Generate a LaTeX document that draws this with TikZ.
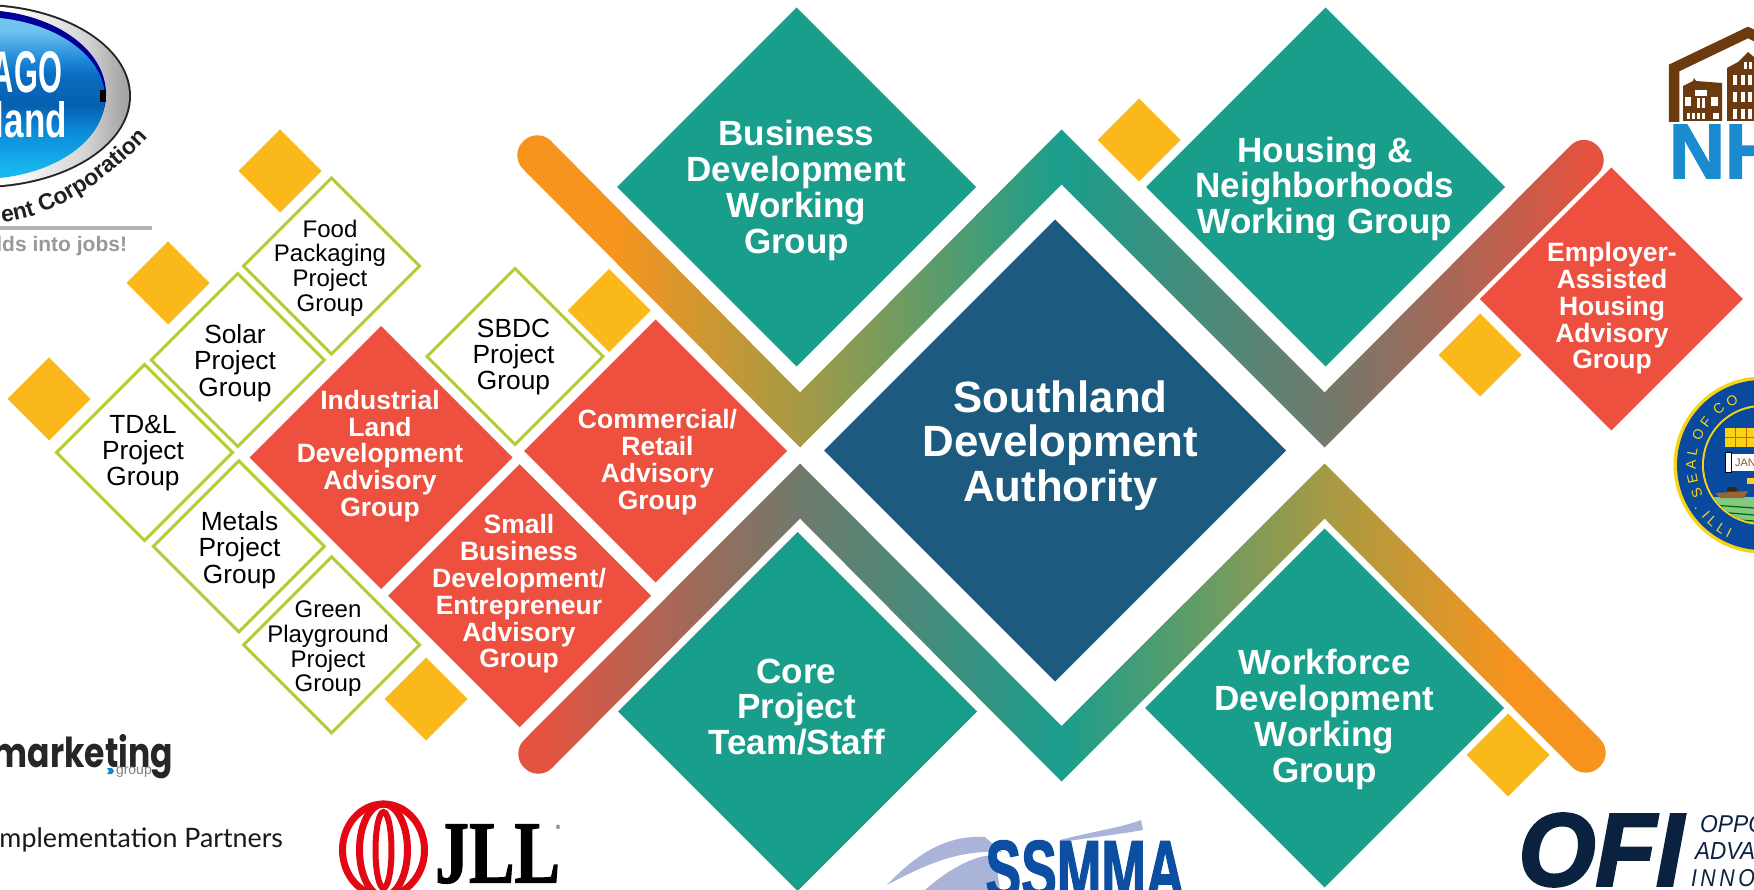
\documentclass[tikz,border=0pt]{standalone}
\usepackage{graphicx}
\usepackage{fontspec}
\setmainfont{Liberation Sans}
\newfontfamily\latofont{Lato}
\newfontfamily\poppinsfont{Poppins}
\newfontfamily\serifbold[BoldFeatures={FakeBold=1.5}]{Liberation Serif}
\newfontfamily\heavyf[BoldFeatures={FakeBold=2},BoldItalicFeatures={FakeBold=2.5}]{Liberation Sans}
\usetikzlibrary{shapes.geometric,decorations.text}
\definecolor{teal1}{HTML}{1A9E8C}
\definecolor{navy1}{HTML}{1D5A80}
\definecolor{red1}{HTML}{EE5040}
\definecolor{yel1}{HTML}{FBB81B}
\definecolor{lime1}{HTML}{B5CC34}
\definecolor{orange1}{HTML}{F7941D}
\definecolor{olive1}{HTML}{A59A45}
\definecolor{gray1}{HTML}{6F7A6C}
\definecolor{red2}{HTML}{E5523F}
\definecolor{brown1}{HTML}{6B3A0E}
\definecolor{nhblue}{HTML}{1B8BD0}
\definecolor{sealblue}{HTML}{0A4A9E}
\definecolor{sealyel}{HTML}{F7D417}
\definecolor{ofinavy}{HTML}{0A2240}
\definecolor{ssblue}{HTML}{0B4EA2}
\definecolor{sslight}{HTML}{A9B4D8}
\definecolor{jllred}{HTML}{E30613}
\definecolor{lb1}{HTML}{18B6EE}
\definecolor{lb2}{HTML}{0A8AD8}
\definecolor{lb3}{HTML}{0660B0}
\definecolor{lb4}{HTML}{0A6CC0}
\definecolor{lb5}{HTML}{1E88D8}
\definecolor{lb6}{HTML}{6FC4F0}
\pgfdeclarehorizontalshading{topband}{100bp}{color(0bp)=(orange1);color(30bp)=(orange1);color(38.4bp)=(olive1);color(50bp)=(teal1);color(61.8bp)=(gray1);color(73.5bp)=(red2);color(100bp)=(red2)}
\pgfdeclarehorizontalshading{botband}{100bp}{color(0bp)=(red2);color(26.8bp)=(red2);color(38.4bp)=(gray1);color(50bp)=(teal1);color(61.8bp)=(olive1);color(70.1bp)=(orange1);color(100bp)=(orange1)}
\pgfdeclareverticalshading{logoblue}{100bp}{color(0bp)=(lb1);color(27.8bp)=(lb1);color(40bp)=(lb2);color(47.8bp)=(lb3);color(57bp)=(lb4);color(61.7bp)=(lb5);color(71bp)=(lb6);color(100bp)=(lb6)}
\pgfdeclarehorizontalshading{chrome}{100bp}{color(0bp)=(white);color(55bp)=(white);color(68bp)=(gray!35);color(74bp)=(gray!70);color(100bp)=(gray)}
\tikzset{
  dia/.style={diamond,aspect=1,minimum width=#1,minimum height=#1,inner sep=0pt,outer sep=0pt,draw=none},
  tealdia/.style={dia=359pt,fill=teal1},
  reddia/.style={dia=263pt,fill=red1},
  yeldia/.style={dia=83pt,fill=yel1},
  outdia/.style={dia=#1,draw=lime1,line width=3pt,fill=white},
  bigtxt/.style={text=white,align=center,inner sep=0pt,font=\fontsize{35}{35.8}\selectfont\bfseries},
  midtxt/.style={text=white,align=center,inner sep=0pt,font=\fontsize{26.5}{26.8}\selectfont\bfseries},
  blktxt/.style={text=black,align=center,inner sep=0pt,font=\fontsize{26.3}{26.3}\selectfont},
  blksmall/.style={text=black,align=center,inner sep=0pt,font=\fontsize{24}{24.6}\selectfont},
  logotxt/.style={inner sep=0pt,outer sep=0pt}
}
\begin{document}
\begin{tikzpicture}[x=1pt,y=-1pt]
\useasboundingbox (0,0) rectangle (1754,890);
\clip (0,0) rectangle (1754,890);
\fill[white] (0,0) rectangle (1754,890);

% ---- gradient bands
\begin{scope}
\clip (551,141) -- (800,392.5) -- (1061.5,129.5) -- (1324.5,392.5) -- (1570,146)
  [rounded corners=19pt] -- (1584,132) -- (1611.5,160) [sharp corners] -- (1598,174)
  -- (1324.5,447.5) -- (1061.5,184.5) -- (800,447.5) -- (523,169)
  [rounded corners=19pt] -- (509.5,155) -- (537,127.5) [sharp corners] -- cycle;
\shade[shading=topband] (500,100) rectangle (1620,500);
\end{scope}
\begin{scope}
\clip (524,740) -- (800,463.5) -- (1061.5,726) -- (1324.5,463.5) -- (1600,739)
  [rounded corners=19pt] -- (1613.5,753) -- (1586,780.5) [sharp corners] -- (1572,767)
  -- (1324.5,518.5) -- (1061.5,781.5) -- (800,518.5) -- (552,768)
  [rounded corners=19pt] -- (538,781.5) -- (510.5,754) [sharp corners] -- cycle;
\shade[shading=botband] (500,440) rectangle (1620,800);
\end{scope}

% ---- main diamonds
\node[tealdia] (biz) at (796.5,187) {};
\node[tealdia] (hou) at (1325.5,187) {};
\node[tealdia] (cor) at (797.5,711.5) {};
\node[tealdia] (wrk) at (1324.5,708) {};
\node[dia=462pt,fill=navy1] (sda) at (1055,450.5) {};
\node[reddia] (ind) at (381,457.5) {};
\node[reddia] (com) at (655.5,451) {};
\node[reddia] (sbd) at (519.6,595.7) {};
\node[reddia] (emp) at (1611.3,299) {};
\node[outdia=176pt] (foo) at (331.5,266) {};
\node[outdia=173pt] (sol) at (237.7,360) {};
\node[outdia=176pt] (tdl) at (144.5,452.5) {};
\node[outdia=171pt] (met) at (238.8,546.4) {};
\node[outdia=176pt] (gre) at (331.7,644.9) {};
\node[outdia=176pt] (sbc) at (515,356.5) {};
\node[yeldia] (y1) at (280,171) {};
\node[yeldia] (y2) at (168,283) {};
\node[yeldia] (y3) at (49,399) {};
\node[yeldia] (y4) at (609,310.5) {};
\node[yeldia] (y5) at (426,699) {};
\node[yeldia] (y6) at (1139,140) {};
\node[yeldia] (y7) at (1480,355) {};
\node[yeldia] (y8) at (1508,755) {};

% ---- diamond texts
\node[bigtxt] (tbiz) at (796.5,190.5) {Business\\Development\\Working\\Group};
\node[bigtxt] (thou) at (1325,189) {Housing \&\\Neighborhoods\\Working Group};
\node[bigtxt] (tcor) at (796.5,707) {Core\\Project\\Team/Staff};
\node[bigtxt] (twrk) at (1324.5,719.5) {Workforce\\Development\\Working\\Group};
\node[text=white,align=center,inner sep=0pt,font=\fontsize{43.8}{44.7}\selectfont\bfseries] (tsda) at (1060.5,445.5) {Southland\\Development\\Authority};
\node[midtxt] (tind) at (380,456) {Industrial\\Land\\Development\\Advisory\\Group};
\node[midtxt] (tcom) at (657.5,462) {Commercial/\\Retail\\Advisory\\Group};
\node[midtxt] (tsbd) at (519,594) {Small\\Business\\Development/\\Entrepreneur\\Advisory\\Group};
\node[midtxt] (temp) at (1612,308.5) {Employer-\\Assisted\\Housing\\Advisory\\Group};
\node[blksmall] (tfoo) at (330,268) {Food\\Packaging\\Project\\Group};
\node[blktxt] (tsol) at (235,363) {Solar\\Project\\Group};
\node[blktxt] (ttdl) at (143,453) {TD\&L\\Project\\Group};
\node[blktxt] (tmet) at (239.5,550) {Metals\\Project\\Group};
\node[blksmall] (tgre) at (328,649) {Green\\Playground\\Project\\Group};
\node[blktxt] (tsbc) at (513.5,357) {SBDC\\Project\\Group};

% ---- top-left oval logo
\fill[gray!30!black] (-20,96) ellipse[x radius=151pt,y radius=92pt];
\shade[shading=chrome] (-20,96) ellipse[x radius=149pt,y radius=90pt];
\fill[blue!60!black] (-20,94) ellipse[x radius=126pt,y radius=84pt];
\shade[shading=logoblue] (-20,98) ellipse[x radius=125pt,y radius=81pt];
\fill[black] (100,90) rectangle (106,102);
\node[logotxt,text=white,anchor=east] (lago) at (62,72) {\resizebox{70pt}{41pt}{\bfseries AGO}};
\node[logotxt,text=white,anchor=east] (lland) at (67,120) {\resizebox{72pt}{36pt}{\bfseries land}};
\path[decorate,decoration={text along path,text align={left},text={|\fontsize{23}{23}\selectfont\bfseries\color{gray!25!black}|ent Corporation}}]
  (2,222) .. controls (50,218) and (105,185) .. (152,133);
\draw[gray!60,line width=3.5pt] (0,228) -- (152,228);
\node[logotxt,anchor=east,text=gray!80,font=\fontsize{21}{21}\selectfont\bfseries] (ljobs) at (127,246) {lds into jobs!};

% ---- marketing group logo
\node[logotxt,anchor=east,text=black!85] (lmkt) at (173,757) {\resizebox{180pt}{33pt}{\poppinsfont\bfseries marketing}};
\node[logotxt,anchor=west,text=gray,font=\fontsize{14}{14}\selectfont] (lgrp) at (116,772) {group};
\fill[cyan!70!blue] (107,768) -- (112,768) -- (114,771) -- (112,774) -- (107,774) -- (109,771) -- cycle;
\node[logotxt,anchor=east,text=black!90,font=\fontsize{26.8}{26.8}\latofont] (limp) at (283,840) {mplementation Partners};

% ---- JLL logo
\draw[jllred,line width=7pt] (383.5,850) ellipse[x radius=41pt,y radius=46pt];
\draw[jllred,line width=7pt] (383.5,850) ellipse[x radius=24pt,y radius=46pt];
\draw[jllred,line width=6pt] (383.5,850) ellipse[x radius=8pt,y radius=38pt];
\node[logotxt,anchor=west,text=black] (ljll) at (435,854) {\resizebox{125pt}{58pt}{\serifbold\bfseries JLL}};
\node[logotxt,text=black,font=\fontsize{6}{6}\selectfont] (lreg) at (558,827) {\textregistered};

% ---- SSMMA logo
\fill[sslight] (887,885) .. controls (920,850) and (950,835) .. (985,837) -- (1002,852) .. controls (960,850) and (930,862) .. (887,885) -- cycle;
\fill[sslight] (925,890) .. controls (950,868) and (975,855) .. (995,855) -- (1000,890) -- cycle;
\fill[sslight] (1060,840) .. controls (1090,832) and (1120,828) .. (1141,820) -- (1143,830) .. controls (1120,834) and (1090,838) .. (1060,842) -- cycle;
\node[logotxt,text=ssblue] (lss) at (1085,870) {\resizebox{199pt}{58pt}{\heavyf\bfseries SSMMA}};

% ---- OFI logo
\node[logotxt,text=ofinavy] (lofi) at (1601,850) {\resizebox{165pt}{72pt}{\heavyf\bfseries\itshape OFI}};
\node[logotxt,anchor=west,text=ofinavy] (lo1) at (1700,824) {\resizebox{66pt}{17pt}{\itshape OPPO}};
\node[logotxt,anchor=west,text=ofinavy] (lo2) at (1695,851) {\resizebox{60pt}{17pt}{\itshape ADVA}};
\node[logotxt,anchor=west,text=ofinavy] (lo3) at (1691,878) {\resizebox{64pt}{17pt}{\itshape I\,N\,N\,O}};

% ---- NHS logo
\draw[brown1,line width=10.5pt,miter limit=10] (1674,122) -- (1674,68) -- (1748,32.5) -- (1800,58);
\fill[brown1] (1683,121) -- (1683,86) -- (1693,81) -- (1694,78) -- (1696,81) -- (1722,83) -- (1722,121) -- cycle;
\fill[brown1] (1727,121) -- (1727,68) -- (1738,62) -- (1748,52) -- (1760,62) -- (1760,121) -- cycle;
\foreach \wx/\wy/\ww/\wh in {1685/97/6/9, 1711/97/7/9, 1695/90/12/6, 1697/98/3/10, 1702/98/3/10, 1687/113/3/6, 1692/113/3/6, 1697/113/3/6, 1702/113/3/6, 1713/113/6/6,
   1733/75/4/10, 1741/75/4/10, 1748/75/4/10, 1733/92/4/10, 1741/92/4/10, 1748/92/4/10, 1733/109/4/10, 1741/109/4/10, 1748/109/4/10, 1744/62/3/7, 1749/62/3/7}
  \fill[white] (\wx,\wy) rectangle ++(\ww,\wh);
\node[logotxt,anchor=west,text=nhblue] (lnh) at (1669,151.5) {\resizebox{112pt}{53pt}{\heavyf\bfseries NH}};

% ---- seal
\fill[sealyel] (1762,465) circle[radius=88.5pt];
\fill[sealblue] (1762,465) circle[radius=85pt];
\fill[sealyel] (1762,465) circle[radius=60pt];
\fill[sealblue] (1762,465) circle[radius=58pt];
\begin{scope}
\clip (1762,465) circle[radius=58pt];
\fill[green!40!gray!70!white] (1700,497) rectangle (1760,530);
\draw[green!40!black,line width=1.2pt] (1712,505) -- (1754,508) (1718,512) -- (1754,515) (1725,519) -- (1754,521);
\fill[brown!80!black] (1715,493) -- (1748,491) -- (1744,498) -- (1720,498) -- cycle;
\fill[black!70!brown] (1727,491) rectangle (1737,487);
\end{scope}
\fill[sealyel] (1725,428) rectangle (1754,447);
\draw[orange!80!black,line width=.6pt] (1725,437) -- (1754,437) (1735,428) -- (1735,447) (1746,428) -- (1746,447);
\fill[white] (1727,454) rectangle (1754,471);
\fill[white,draw=black,line width=.5pt] (1725,452) rectangle (1731,472);
\node[logotxt,anchor=west,text=brown!70!black,font=\fontsize{11}{11}\selectfont] (ljan) at (1735,463) {JAN};
\fill[sealyel] (1747,478) rectangle (1754,484);
\path[decorate,decoration={text along path,text align={left},text={|\fontsize{14}{14}\selectfont\color{sealyel}|S\ E\ A\ L\ \ O\ F\ \ C\ O}}]
  (1762,465) ++(207:66pt) arc[start angle=207,end angle=80,radius=66pt];
\path[decorate,decoration={text along path,text align={left},text={|\fontsize{14}{14}\selectfont\color{sealyel}|.\ \ I\ L\ L\ I}}]
  (1762,465) ++(212:80pt) arc[start angle=212,end angle=285,radius=80pt];
\end{tikzpicture}
\end{document}
